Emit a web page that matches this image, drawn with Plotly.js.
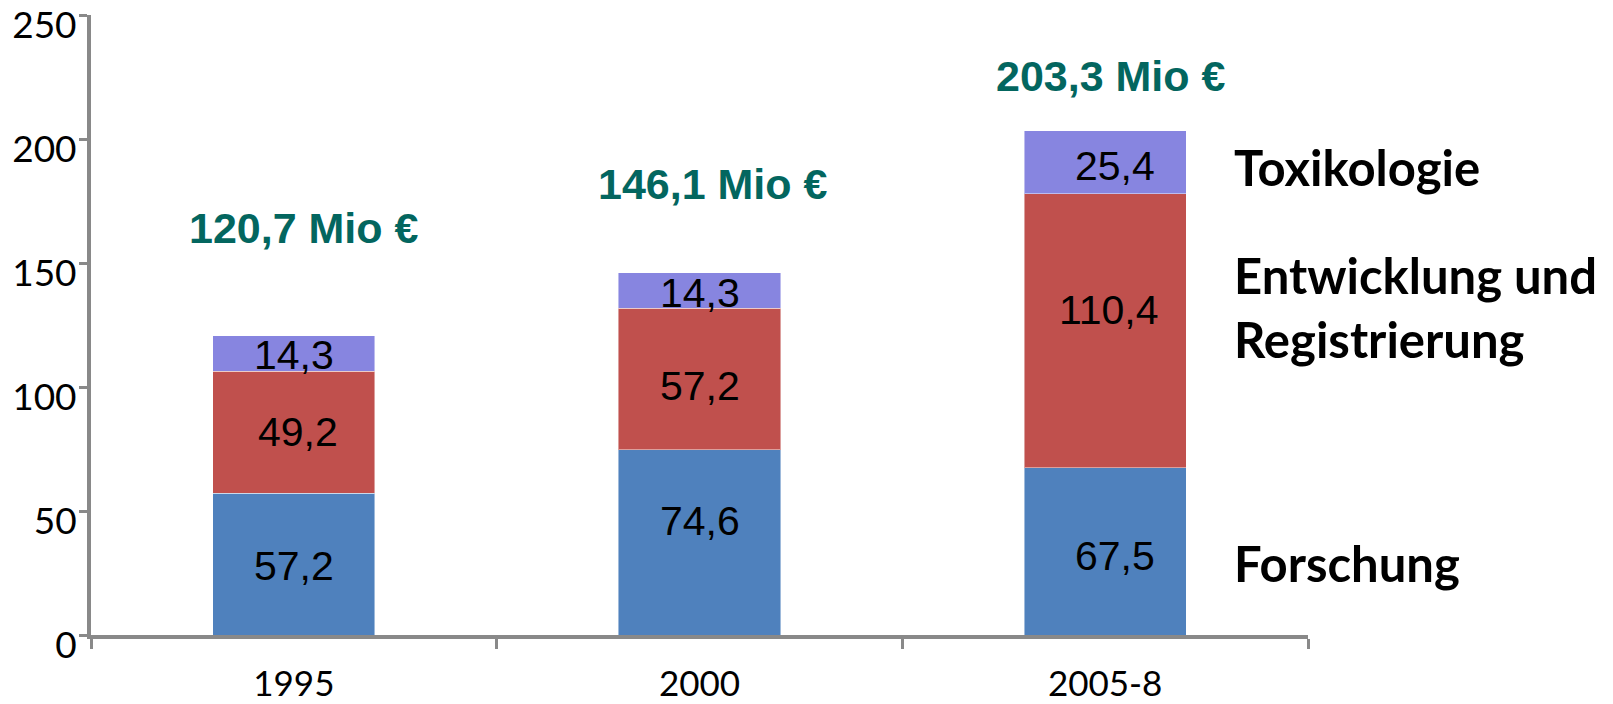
<!DOCTYPE html>
<html>
<head>
<meta charset="utf-8">
<script src="https://cdn.plot.ly/plotly-3.0.1.min.js"></script>
<style>html,body{margin:0;padding:0;background:#fff;}#chart{width:1613px;height:704px;}</style>
</head>
<body>
<div id="chart"></div>
<script>
// ---- data ----
var categories = ['1995', '2000', '2005-8'];
var forschung = [57.2, 74.6, 67.5];
var entwicklung = [49.2, 57.2, 110.4];
var toxikologie = [14.3, 14.3, 25.4];
var totals = [120.7, 146.1, 203.3];
var seriesNames = ['Forschung', 'Entwicklung und<br>Registrierung', 'Toxikologie'];
var yTicks = [0, 50, 100, 150, 200, 250];

// ---- styles ----
var colors = ['#4F81BD', '#C0504D', '#8785E0'];
var axisColor = '#898989';
var totalColor = '#03665F';

function fmt(v) { return v.toFixed(1).replace('.', ','); }

var series = [forschung, entwicklung, toxikologie];
var traces = series.map(function (vals, i) {
  return {
    type: 'bar',
    x: categories,
    y: vals,
    name: seriesNames[i],
    marker: { color: colors[i], line: { color: 'rgba(255,255,255,0.45)', width: 1 } },
    hoverinfo: 'none'
  };
});

var annotations = [];
// segment value labels (centred in each segment, small pixel nudges)
var segShiftY = [[-2, 22, -5], [0, -7, 21], [-2, -3, -4]];
var segShiftX = [[0, 0, 10], [4, 0, 4], [0, 0, 10]];
categories.forEach(function (c, j) {
  var base = 0;
  series.forEach(function (vals, i) {
    annotations.push({
      x: j, y: base + vals[j] / 2, xref: 'x', yref: 'y',
      text: fmt(vals[j]), showarrow: false,
      xshift: segShiftX[i][j], yshift: segShiftY[i][j],
      font: { family: 'Liberation Sans, Arial, sans-serif', size: 41, color: '#000' }
    });
    base += vals[j];
  });
});
// totals
var totalShiftY = [108, 89, 55];
var totalShiftX = [10, 13, 6];
categories.forEach(function (c, j) {
  annotations.push({
    x: j, y: totals[j], xref: 'x', yref: 'y',
    text: fmt(totals[j]) + ' Mio €', showarrow: false,
    xshift: totalShiftX[j], yshift: totalShiftY[j],
    font: { family: 'Liberation Sans, Arial, sans-serif', size: 43, color: totalColor, weight: 'bold' }
  });
});
// series names at right, next to the last bar
var last = categories.length - 1;
var nameShiftY = [-12, 24, -5];
var cum = 0;
series.forEach(function (vals, i) {
  annotations.push({
    x: 0.9376, xref: 'paper', xanchor: 'left',
    y: cum + vals[last] / 2, yref: 'y',
    yshift: nameShiftY[i],
    text: '<b>' + seriesNames[i] + '</b>', showarrow: false, align: 'left',
    font: { family: 'Lato, Open Sans, sans-serif', size: 49, color: '#000' }
  });
  cum += vals[last];
});

var layout = {
  width: 1613, height: 704,
  margin: { l: 91, r: 305, t: 15, b: 69, pad: 0 },
  paper_bgcolor: '#fff', plot_bgcolor: '#fff',
  barmode: 'stack', bargap: 0.6,
  showlegend: false,
  separators: ',.',
  xaxis: {
    type: 'category', range: [-0.5, 2.5], tickson: 'boundaries',
    showline: true, linecolor: axisColor, linewidth: 4,
    ticks: 'outside', ticklen: 10, tickwidth: 3, tickcolor: axisColor,
    ticklabelstandoff: 15,
    showgrid: false, zeroline: false,
    tickfont: { family: 'Lato, Open Sans, sans-serif', size: 35, color: '#000' },
    tickangle: 0,
    fixedrange: true
  },
  yaxis: {
    range: [0, 250], tickmode: 'array', tickvals: yTicks, ticktext: yTicks.map(String),
    showline: true, linecolor: axisColor, linewidth: 4,
    ticks: 'outside', ticklen: 8, tickwidth: 3, tickcolor: axisColor,
    ticklabelshift: 10, ticklabelstandoff: -5, ticklabeloverflow: 'allow',
    showgrid: false, zeroline: false,
    tickfont: { family: 'Lato, Open Sans, sans-serif', size: 37, color: '#000' },
    fixedrange: true
  },
  annotations: annotations
};

Plotly.newPlot('chart', traces, layout, { displayModeBar: false, staticPlot: true });
</script>
</body>
</html>
